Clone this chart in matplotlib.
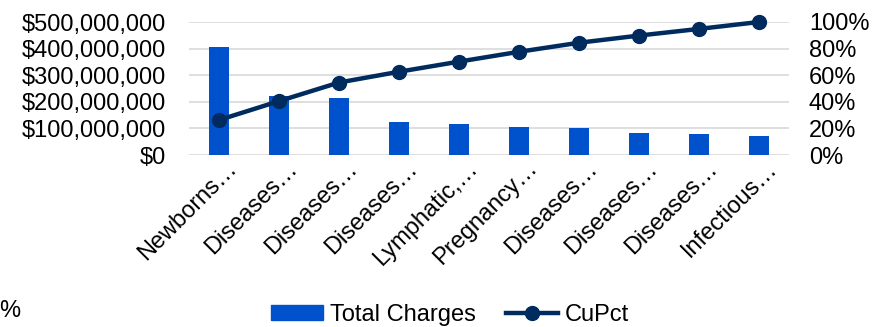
import matplotlib
matplotlib.use("Agg")
import matplotlib.pyplot as plt
from matplotlib.ticker import FuncFormatter, MultipleLocator
from matplotlib.transforms import ScaledTranslation
from matplotlib.lines import Line2D
from matplotlib.patches import Patch

plt.rcParams['font.family'] = ['Liberation Sans', 'DejaVu Sans']

categories = ["Newborns…", "Diseases…", "Diseases…", "Diseases…", "Lymphatic,…",
              "Pregnancy…", "Diseases…", "Diseases…", "Diseases…", "Infectious…"]
total_charges = [405e6, 222e6, 215e6, 124e6, 115e6, 105e6, 101e6, 84e6, 78e6, 73e6]
cupct = [0.263, 0.405, 0.545, 0.626, 0.702, 0.776, 0.844, 0.898, 0.948, 1.0]

BAR = "#0052CC"
LINE = "#002B5E"
GRID = "#D9D9D9"
FS = 17

fig = plt.figure(figsize=(8.78, 3.27), dpi=100)
ax = fig.add_axes([189/878, 1-155/327, 600/878, 133/327])
x = list(range(len(categories)))
ax.bar(x, total_charges, width=0.32, color=BAR, zorder=2)
ax.set_xlim(-0.5, len(categories)-0.5)
ax.set_ylim(0, 500e6)
ax.yaxis.set_major_locator(MultipleLocator(100e6))
ax.yaxis.set_major_formatter(FuncFormatter(lambda v, p: f"${v:,.0f}"))
ax.grid(axis='y', color=GRID, linewidth=1.2, zorder=0)
ax.set_axisbelow(True)
for s in ax.spines.values():
    s.set_visible(False)
ax.tick_params(axis='y', length=0, pad=23*0.72, labelsize=FS)
ax.tick_params(axis='x', length=0, pad=0, labelsize=FS)
ax.set_xticks(x)
ax.set_xticklabels(categories, rotation=45, ha='right', va='center',
                   rotation_mode='anchor')
off = ScaledTranslation(15/100, -10/100, fig.dpi_scale_trans)
for lab in ax.get_xticklabels():
    lab.set_transform(lab.get_transform() + off)

ax2 = ax.twinx()
ax2.plot(x, cupct, color=LINE, linewidth=3.2, marker='o', markersize=10,
         markerfacecolor=LINE, markeredgecolor=LINE, zorder=3, clip_on=False)
ax2.set_ylim(0, 1.0)
ax2.yaxis.set_major_locator(MultipleLocator(0.2))
ax2.yaxis.set_major_formatter(FuncFormatter(lambda v, p: f"{v*100:.0f}%"))
for s in ax2.spines.values():
    s.set_visible(False)
ax2.tick_params(axis='y', length=0, pad=20*0.72, labelsize=FS)

handles = [Patch(facecolor=BAR, edgecolor=BAR),
           Line2D([0], [0], color=LINE, linewidth=3.2, marker='o', markersize=10)]
fig.legend(handles, ["Total Charges", "CuPct"], loc='center',
           bbox_to_anchor=(450/878, 1-315/327), ncol=2, frameon=False,
           fontsize=17, handlelength=2.2, handleheight=0.6,
           handletextpad=0.3, columnspacing=1.3)

fig.text(-0.001, 1-311/327, "%", fontsize=FS, ha='left', va='center')

fig.savefig("out.png", dpi=100)
